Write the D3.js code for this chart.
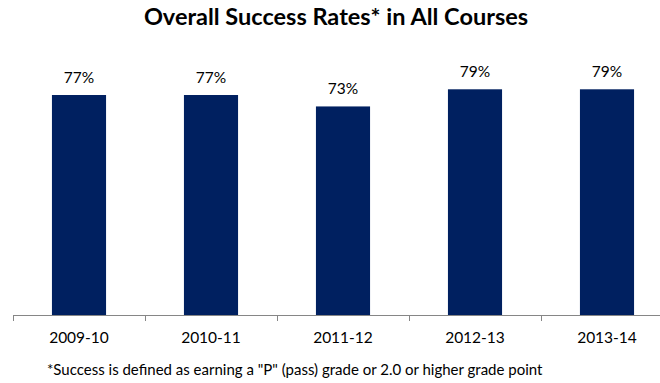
<!DOCTYPE html>
<html>
<head>
<meta charset="utf-8">
<script src="https://cdn.jsdelivr.net/npm/d3@7"></script>
<style>
  html, body { margin: 0; padding: 0; background: #fff; }
  svg { display: block; }
</style>
</head>
<body>
<svg id="chart" width="660" height="383"></svg>
<script>
// Success rate by academic year
const years = ["2009-10", "2010-11", "2011-12", "2012-13", "2013-14"];
const rates = [77, 77, 73, 79, 79];

const title = "Overall Success Rates* in All Courses";
const footnote = '*Success is defined as earning a "P" (pass) grade or 2.0 or higher grade point';

const svg = d3.select("#chart");
const font = "Lato, 'Open Sans', sans-serif";

const x = d3.scaleBand().domain(years).range([13, 673]).paddingInner(0.59).paddingOuter(0.295);
const y = d3.scaleLinear().domain([0, 100]).range([315, 29.3]);

const rows = years.map((yr, i) => ({ yr, v: rates[i] }));

// bars
svg.append("g").selectAll("rect")
  .data(rows)
  .join("rect")
  .attr("x", d => x(d.yr))
  .attr("y", d => y(d.v))
  .attr("width", x.bandwidth())
  .attr("height", d => y(0) - y(d.v))
  .attr("fill", "#002060");

// value labels
svg.append("g").selectAll("text")
  .data(rows)
  .join("text")
  .attr("x", d => x(d.yr) + x.bandwidth() / 2)
  .attr("y", d => y(d.v) - 12)
  .attr("text-anchor", "middle")
  .attr("font-family", font)
  .attr("font-size", 15.5)
  .attr("fill", "#000")
  .text(d => d.v + "%");

// category axis with boundary ticks
const step = x.step();
const edges = d3.range(years.length + 1).map(i => 13 + i * step);
const axis = svg.append("g");
axis.append("line")
  .attr("x1", 13).attr("x2", 673)
  .attr("y1", 315.5).attr("y2", 315.5)
  .attr("stroke", "#868686");
axis.selectAll("line.tick")
  .data(edges)
  .join("line")
  .attr("class", "tick")
  .attr("x1", d => d + 0.5).attr("x2", d => d + 0.5)
  .attr("y1", 315).attr("y2", 321)
  .attr("stroke", "#868686");
axis.selectAll("text")
  .data(years)
  .join("text")
  .attr("x", d => x(d) + x.bandwidth() / 2)
  .attr("y", 343)
  .attr("text-anchor", "middle")
  .attr("font-family", font)
  .attr("font-size", 15.5)
  .attr("fill", "#000")
  .text(d => d);

// title
svg.append("text")
  .attr("x", 336)
  .attr("y", 25)
  .attr("text-anchor", "middle")
  .attr("font-family", font)
  .attr("font-weight", "bold")
  .attr("font-size", 23.5)
  .attr("fill", "#000")
  .text(title);

// footnote
svg.append("text")
  .attr("x", 47)
  .attr("y", 375)
  .attr("font-family", font)
  .attr("font-size", 15)
  .attr("fill", "#000")
  .text(footnote);
</script>
</body>
</html>
